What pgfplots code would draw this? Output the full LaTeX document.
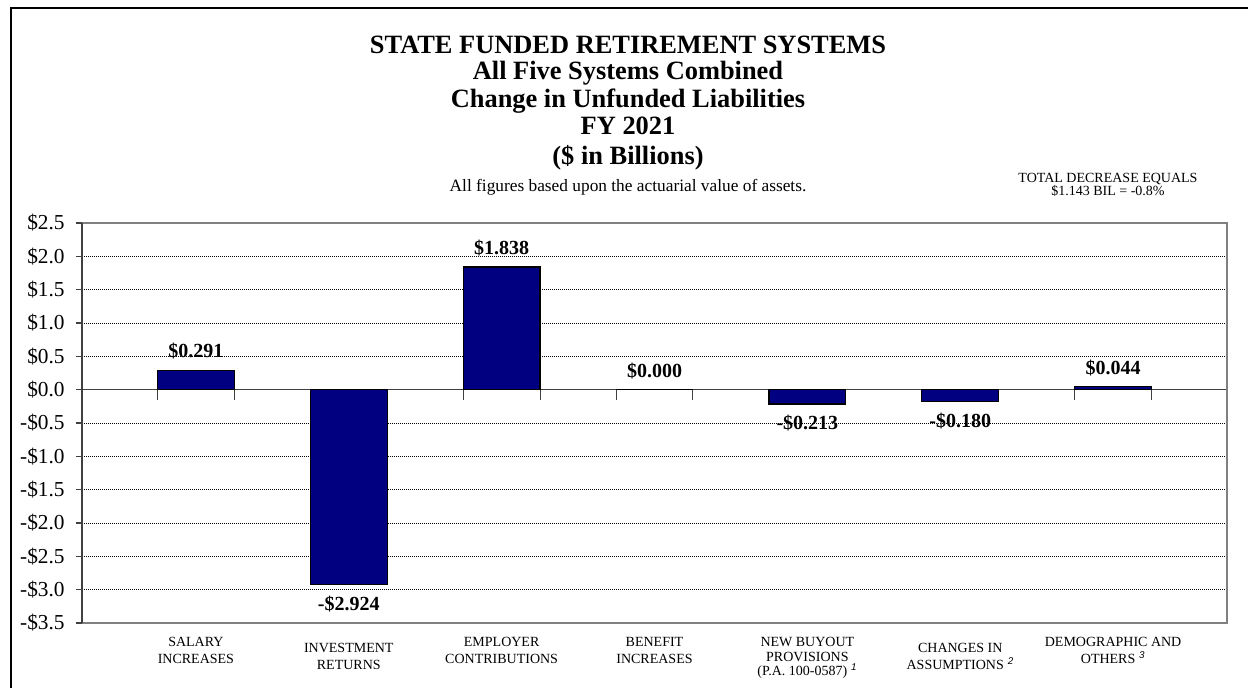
\documentclass[border=0pt]{standalone}
\usepackage{pgfplots}
\pgfplotsset{compat=1.18}
\usepackage{pgfplotstable}
\usepackage{fontspec}
\setmainfont{Liberation Serif}
\newfontfamily\arialfont{Liberation Sans}
\definecolor{barnavy}{HTML}{000080}
\definecolor{framegray}{HTML}{808080}
\definecolor{axisdark}{HTML}{404040}
\newcommand{\fn}[1]{\;\textsuperscript{\arialfont\itshape #1}}

% change in unfunded liabilities, $ billions
\pgfplotstableread{
x y lbl
0 0.291 {\$0.291}
1 -2.924 {-\$2.924}
2 1.838 {\$1.838}
3 0.000 {\$0.000}
4 -0.213 {-\$0.213}
5 -0.180 {-\$0.180}
6 0.044 {\$0.044}
}\changes

\pgfplotsset{vlabel/.style={ybar, bar width=0.503, bar shift=0pt, draw=none, fill=none,
  nodes near coords, point meta=explicit symbolic,
  nodes near coords style={font=\bfseries\fontsize{15}{18}\selectfont, black, inner sep=8pt, anchor=#1}}}

\begin{document}
\begin{tikzpicture}
\begin{axis}[
  scale only axis, width=858.75pt, height=300pt,
  at={(61.5pt,48pt)}, anchor=south west,
  xmin=-0.745, xmax=6.745, ymin=-3.5, ymax=2.5,
  axis line style={draw=none},
  clip=false,
  ytick={-3.5,-3,...,2.5},
  yticklabels={-\$3.5,-\$3.0,-\$2.5,-\$2.0,-\$1.5,-\$1.0,-\$0.5,\$0.0,\$0.5,\$1.0,\$1.5,\$2.0,\$2.5},
  ymajorgrids, grid style={black, line width=0.5pt, densely dotted},
  tick align=outside, ytick pos=left, major tick length=4.5pt,
  y tick style={axisdark, line width=1pt},
  yticklabel style={font=\fontsize{16}{19}\selectfont, xshift=-5pt},
  xtick={0,...,6}, xtick style={draw=none},
  xticklabels={{SALARY\\INCREASES},{\rule{0pt}{11pt}INVESTMENT\\RETURNS},{EMPLOYER\\CONTRIBUTIONS},{BENEFIT\\INCREASES},{NEW BUYOUT\\[-2pt]PROVISIONS\\[-2pt](P.A. 100-0587)\fn{1}},{\rule{0pt}{11pt}CHANGES IN\\ASSUMPTIONS\fn{2}},{DEMOGRAPHIC AND\\OTHERS\fn{3}}},
  xticklabel style={align=center, font=\fontsize{10.5}{12.75}\selectfont, yshift=-3pt},
]
\draw[axisdark, line width=0.8pt] (axis cs:-0.745,0) -- (axis cs:6.745,0);
\addplot[ycomb, axisdark, line width=0.8pt, mark=none] table[x expr=\thisrow{x}-0.2515, y expr=-0.15] {\changes};
\addplot[ycomb, axisdark, line width=0.8pt, mark=none] table[x expr=\thisrow{x}+0.2515, y expr=-0.15] {\changes};
\addplot[ybar, bar width=0.503, bar shift=0pt, fill=barnavy, draw=black, line width=1pt]
  table[x=x, y=y] {\changes};
% value labels: above for positive, below for negative
\addplot[vlabel=south, y filter/.expression={y<0 ? nan : y}] table[x=x, y=y, meta=lbl] {\changes};
\addplot[vlabel=north, y filter/.expression={y<0 ? y : nan}] table[x=x, y=y, meta=lbl] {\changes};
\draw[framegray, line width=1.5pt] (rel axis cs:0,1) -- (rel axis cs:1,1) -- (rel axis cs:1,0) -- (rel axis cs:0,0);
\draw[axisdark, line width=1.6pt] (rel axis cs:0,0) -- (rel axis cs:0,1);
\end{axis}
% outer frame and titles
\draw[black, line width=1.2pt] (8.25pt,-5pt) -- (8.25pt,509.25pt) -- (945pt,509.25pt);
\begin{scope}[every node/.style={anchor=base, inner sep=0pt, font=\bfseries\fontsize{19.8}{22}\selectfont}]
\node at (471pt,474.75pt) {STATE FUNDED RETIREMENT SYSTEMS};
\node at (471pt,455.5pt) {All Five Systems Combined};
\node at (471pt,435pt) {Change in Unfunded Liabilities};
\node at (471pt,414.5pt) {FY 2021};
\node at (471pt,392pt) {(\$ in Billions)};
\end{scope}
\node[anchor=base, inner sep=0pt, font=\fontsize{13}{15}\selectfont] at (471pt,372pt) {All figures based upon the actuarial value of assets.};
\node[anchor=base, inner sep=0pt, font=\fontsize{10.5}{12}\selectfont] at (831pt,378.75pt) {TOTAL DECREASE EQUALS};
\node[anchor=base, inner sep=0pt, font=\fontsize{10.5}{12}\selectfont] at (831pt,369pt) {\$1.143 BIL = -0.8\%};
\pgfresetboundingbox
\path[use as bounding box] (0,0) rectangle (936pt,515.25pt);
\end{tikzpicture}
\end{document}
